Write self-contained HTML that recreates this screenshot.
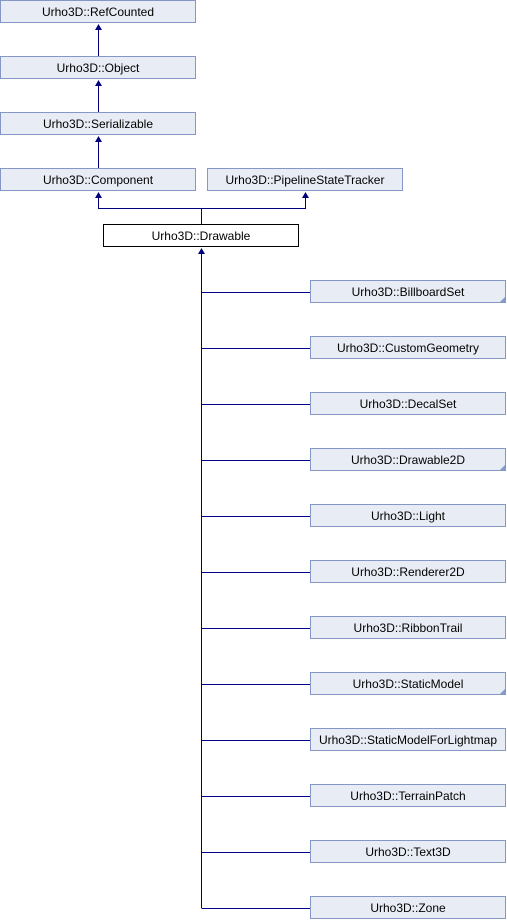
<!DOCTYPE html>
<html><head><meta charset="utf-8"><style>
html,body{margin:0;padding:0;background:#fff;}
svg{display:block;}
text{font-family:"Liberation Sans",Arial,sans-serif;font-size:12px;fill:#000;}
</style></head><body>
<svg width="507" height="920" viewBox="0 0 507 920" xmlns="http://www.w3.org/2000/svg">
<g fill="#e8ecf5" stroke="#8497c7" stroke-width="1">
<rect x="0.5" y="0.5" width="195" height="22"/>
<rect x="0.5" y="56.5" width="195" height="22"/>
<rect x="0.5" y="112.5" width="195" height="22"/>
<rect x="0.5" y="168.5" width="195" height="22"/>
<rect x="207.5" y="168.5" width="195" height="22"/>
</g>
<rect x="103.5" y="224.5" width="195" height="22" fill="#fff" stroke="#000"/>
<g fill="#e8ecf5" stroke="#8497c7">
<rect x="310.5" y="280.5" width="195" height="22"/>
<rect x="310.5" y="336.5" width="195" height="22"/>
<rect x="310.5" y="392.5" width="195" height="22"/>
<rect x="310.5" y="448.5" width="195" height="22"/>
<rect x="310.5" y="504.5" width="195" height="22"/>
<rect x="310.5" y="560.5" width="195" height="22"/>
<rect x="310.5" y="616.5" width="195" height="22"/>
<rect x="310.5" y="672.5" width="195" height="22"/>
<rect x="310.5" y="728.5" width="195" height="22"/>
<rect x="310.5" y="784.5" width="195" height="22"/>
<rect x="310.5" y="840.5" width="195" height="22"/>
<rect x="310.5" y="896.5" width="195" height="22"/>
</g>
<g fill="#8497c7">
<polygon points="506,296 506,303 499,303"/>
<polygon points="506,464 506,471 499,471"/>
<polygon points="506,688 506,695 499,695"/>
</g>
<g stroke="#000080" stroke-width="1" fill="none">
<line x1="98.5" y1="28" x2="98.5" y2="56"/>
<line x1="98.5" y1="84" x2="98.5" y2="112"/>
<line x1="98.5" y1="140" x2="98.5" y2="168"/>
<polyline points="98.5,196 98.5,208.5 305.5,208.5 305.5,196"/>
<line x1="201.5" y1="208.5" x2="201.5" y2="224"/>
<line x1="201.5" y1="252" x2="201.5" y2="908"/>
<line x1="201.5" y1="292.5" x2="310" y2="292.5"/>
<line x1="201.5" y1="348.5" x2="310" y2="348.5"/>
<line x1="201.5" y1="404.5" x2="310" y2="404.5"/>
<line x1="201.5" y1="460.5" x2="310" y2="460.5"/>
<line x1="201.5" y1="516.5" x2="310" y2="516.5"/>
<line x1="201.5" y1="572.5" x2="310" y2="572.5"/>
<line x1="201.5" y1="628.5" x2="310" y2="628.5"/>
<line x1="201.5" y1="684.5" x2="310" y2="684.5"/>
<line x1="201.5" y1="740.5" x2="310" y2="740.5"/>
<line x1="201.5" y1="796.5" x2="310" y2="796.5"/>
<line x1="201.5" y1="852.5" x2="310" y2="852.5"/>
<line x1="201.5" y1="908.5" x2="310" y2="908.5"/>
</g>
<g fill="#000080">
<polygon points="98.5,24 95,30 102,30"/>
<polygon points="98.5,80 95,86 102,86"/>
<polygon points="98.5,136 95,142 102,142"/>
<polygon points="98.5,192 95,198 102,198"/>
<polygon points="305.5,192 302,198 309,198"/>
<polygon points="201.5,248 198,254 205,254"/>
</g>
<g text-anchor="middle">
<text x="98" y="16">Urho3D::RefCounted</text>
<text x="98" y="72">Urho3D::Object</text>
<text x="98" y="128">Urho3D::Serializable</text>
<text x="98" y="184">Urho3D::Component</text>
<text x="305" y="184">Urho3D::PipelineStateTracker</text>
<text x="201" y="240">Urho3D::Drawable</text>
<text x="408" y="296">Urho3D::BillboardSet</text>
<text x="408" y="352">Urho3D::CustomGeometry</text>
<text x="408" y="408">Urho3D::DecalSet</text>
<text x="408" y="464">Urho3D::Drawable2D</text>
<text x="408" y="520">Urho3D::Light</text>
<text x="408" y="576">Urho3D::Renderer2D</text>
<text x="408" y="632">Urho3D::RibbonTrail</text>
<text x="408" y="688">Urho3D::StaticModel</text>
<text x="408" y="744">Urho3D::StaticModelForLightmap</text>
<text x="408" y="800">Urho3D::TerrainPatch</text>
<text x="408" y="856">Urho3D::Text3D</text>
<text x="408" y="912">Urho3D::Zone</text>
</g>
</svg>
</body></html>
